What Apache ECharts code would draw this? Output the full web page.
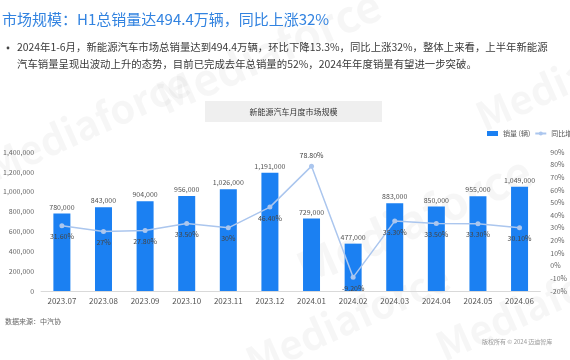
<!DOCTYPE html>
<html><head><meta charset="utf-8">
<script src="https://cdn.jsdelivr.net/npm/echarts@6/dist/echarts.min.js"></script>
<style>html,body{margin:0;padding:0;background:#fff}#c{width:570px;height:360px}</style>
</head><body><div id="c"></div>
<script>
const categories = ['2023.07','2023.08','2023.09','2023.10','2023.11','2023.12','2024.01','2024.02','2024.03','2024.04','2024.05','2024.06'];
const sales = [780000, 843000, 904000, 956000, 1026000, 1191000, 729000, 477000, 883000, 850000, 955000, 1049000];
const yoy = [31.6, 27, 27.8, 33.5, 30, 46.4, 78.8, -9.2, 35.3, 33.5, 33.3, 30.1];
const leftTicks = {min: 0, max: 1400000, interval: 200000};
const rightTicks = {min: -20, max: 90, interval: 10};
const headline = '市场规模：H1总销量达494.4万辆，同比上涨32%';
const para1 = '2024年1-6月，新能源汽车市场总销量达到494.4万辆，环比下降13.3%，同比上涨32%，整体上来看，上半年新能源';
const para2 = '汽车销量呈现出波动上升的态势，目前已完成去年总销量的52%，2024年年度销量有望进一步突破。';
const chartTitle = '新能源汽车月度市场规模';
const sourceText = '数据来源：中汽协';
const copyText = '版权所有 © 2024 迈迪智库';
const seriesNames = ['销量 (辆)', '同比增速'];

const FF = '"Noto Sans CJK SC", "Noto Sans", sans-serif';
const chart = echarts.init(document.getElementById('c'), null, {renderer: 'canvas'});
const wm = (x, y, size) => ({type: 'text', x: x, y: y, rotation: 0.42, z: -10, silent: true,
  style: {text: 'Mediaforce', fill: 'rgba(0,0,0,0.035)', font: 'bold ' + size + 'px ' + FF}});
function fmtNum(v){return v.toString().replace(/\B(?=(\d{3})+(?!\d))/g, ',');}
function fmtPct(v){return (Number.isInteger(v) ? v : v.toFixed(2)) + '%';}

chart.setOption({
  animation: false,
  textStyle: {fontFamily: FF},
  graphic: [
    wm(150, 80, 44), wm(290, 250, 46), wm(240, 345, 40), wm(470, 100, 40), wm(430, 330, 40), wm(-20, 150, 40),
    {type: 'text', x: 2, y: 12, style: {text: headline, fill: '#3283e0', font: '15px ' + FF}},
    {type: 'circle', shape: {cx: 8, cy: 48, r: 1.4}, style: {fill: '#444'}},
    {type: 'text', x: 17, y: 42, style: {text: para1, fill: '#3a3a3a', font: '10.4px ' + FF}},
    {type: 'text', x: 17, y: 59, style: {text: para2, fill: '#3a3a3a', font: '10.4px ' + FF}},
    {type: 'rect', shape: {x: 205, y: 101, width: 177, height: 21}, style: {fill: '#efefef'}},
    {type: 'text', x: 293.5, y: 111.5, style: {text: chartTitle, fill: '#333', font: '8px ' + FF, align: 'center', verticalAlign: 'middle'}},
    {type: 'text', x: 5, y: 318, style: {text: sourceText, fill: '#666', font: '7px ' + FF}},
    {type: 'text', x: 482, y: 339, style: {text: copyText, fill: '#999', font: '6px ' + FF}}
  ],
  legend: {
    left: 482, top: 125, width: 300, itemWidth: 11, itemHeight: 5, itemGap: 4,
    textStyle: {fontSize: 7, color: '#555', fontFamily: FF},
    data: [{name: seriesNames[0], icon: 'rect'}, {name: seriesNames[1], itemWidth: 15}]
  },
  grid: {left: 31, right: 17, top: 152, bottom: 69, containLabel: false},
  xAxis: {
    type: 'category', data: categories,
    axisLine: {lineStyle: {color: '#d9d9d9'}}, axisTick: {show: false},
    axisLabel: {fontSize: 8, color: '#555', margin: 6, fontFamily: FF}
  },
  yAxis: [
    {type: 'value', min: leftTicks.min, max: leftTicks.max, interval: leftTicks.interval,
     splitLine: {show: false}, axisLine: {show: false}, axisTick: {show: false},
     axisLabel: {fontSize: 7, color: '#666', margin: 7, formatter: v => fmtNum(v)}},
    {type: 'value', min: rightTicks.min, max: rightTicks.max, interval: rightTicks.interval,
     splitLine: {show: false}, axisLine: {show: false}, axisTick: {show: false},
     axisLabel: {fontSize: 7, color: '#666', margin: 10, formatter: v => v + '%'}}
  ],
  series: [
    {name: seriesNames[0], type: 'bar', data: sales, barWidth: 17, yAxisIndex: 0,
     itemStyle: {color: '#1b80f2'},
     label: {show: true, position: 'top', distance: 3, fontSize: 7, color: '#555', formatter: p => fmtNum(p.value)}},
    {name: seriesNames[1], type: 'line', yAxisIndex: 1,
     symbol: 'circle', symbolSize: 5,
     lineStyle: {color: '#abc6ee', width: 1.5}, itemStyle: {color: '#abc6ee'},
     label: {show: true, position: 'bottom', distance: 5, fontSize: 7, color: '#444',
       formatter: p => fmtPct(p.value)},
     data: yoy.map((v, i) => v > 70 ? {value: v, label: {position: 'top'}} : v)}
  ]
});
</script></body></html>
